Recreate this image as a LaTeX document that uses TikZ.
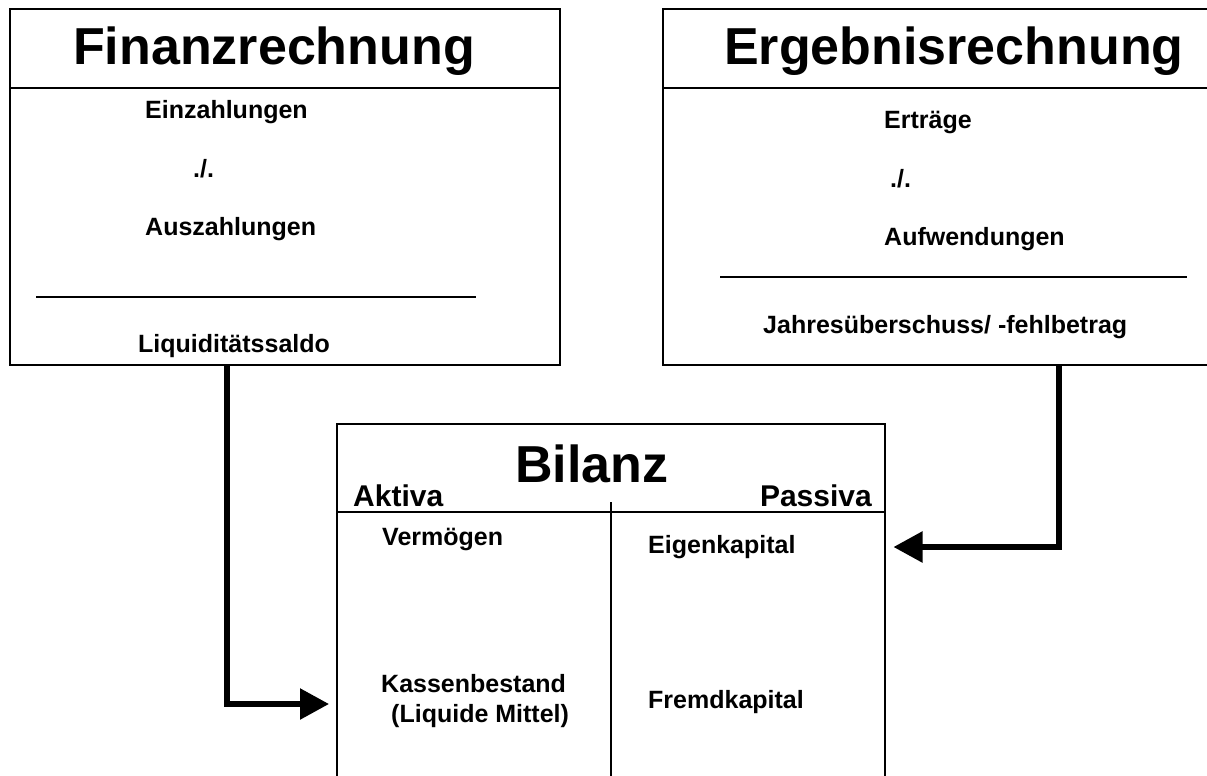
\documentclass[tikz,border=0pt]{standalone}
\usepackage{fontspec}
\setmainfont{Liberation Sans}
\usetikzlibrary{arrows.meta,calc}
\begin{document}
\begin{tikzpicture}[x=1pt,y=-1pt,
  box/.style={draw,line width=2pt,rectangle,inner sep=0pt,anchor=north west},
  title/.style={font=\fontsize{52}{60}\selectfont\bfseries,inner sep=0pt,anchor=base west},
  sub/.style={font=\fontsize{30}{34}\selectfont\bfseries,inner sep=0pt},
  lbl/.style={font=\fontsize{25}{29}\selectfont\bfseries,inner sep=0pt,anchor=base west},
  sep/.style={line width=2pt},
  thin/.style={line width=1.2pt},
  conn/.style={line width=5.5pt,-{Triangle[length=29pt,width=30pt]}}
]
\useasboundingbox (0,0) rectangle (1207,776);
\fill[white] (0,0) rectangle (1207,776);

% Finanzrechnung
\node[box,minimum width=550pt,minimum height=356pt] (fin) at (9,8) {};
\draw[sep] (9,88) -- (559,88);
\node[title] (fint) at (73,65) {Finanzrechnung};
\node[lbl] (ein) at (145,118) {Einzahlungen};
\node[lbl] (minus1) at (193,177) {./.};
\node[lbl] (aus) at (145,235) {Auszahlungen};
\draw[thin] (36,297) -- (476,297);
\node[lbl] (liq) at (138,352) {Liquiditätssaldo};

% Ergebnisrechnung
\node[box,minimum width=560pt,minimum height=356pt] (erg) at (662,8) {};
\draw[sep] (662,88) -- (1215,88);
\node[title] (ergt) at (724,65) {Ergebnisrechnung};
\node[lbl] (ert) at (884,128) {Erträge};
\node[lbl] (minus2) at (890,187) {./.};
\node[lbl] (aufw) at (884,245) {Aufwendungen};
\draw[thin] (720,277) -- (1187,277);
\node[lbl] (jue) at (763,333) {Jahresüberschuss/ -fehlbetrag};

% Bilanz
\node[box,line width=1.5pt,minimum width=548pt,minimum height=380pt] (bil) at (336,423) {};
\draw[line width=1.5pt] (336,512) -- (884,512);
\draw[line width=1.5pt] (611,502) -- (611,790);
\node[title] (bilt) at (515,482) {Bilanz};
\node[sub,anchor=base west] (akt) at (353,506) {Aktiva};
\node[sub,anchor=base east] (pas) at (872,506) {Passiva};
\node[lbl] (verm) at (382,545) {Vermögen};
\node[lbl] (eig) at (648,553) {Eigenkapital};
\node[lbl] (kas) at (381,692) {Kassenbestand};
\node[lbl] (lm) at (391,722) {(Liquide Mittel)};
\node[lbl] (frk) at (648,708) {Fremdkapital};

% Connectors
\draw[conn] ($(fin.south west)+(218,0)$) |- ($(bil.north west)+(-7,281)$);
\draw[conn] ($(erg.south west)+(397,0)$) |- ($(bil.north east)+(8,124)$);
\end{tikzpicture}
\end{document}
